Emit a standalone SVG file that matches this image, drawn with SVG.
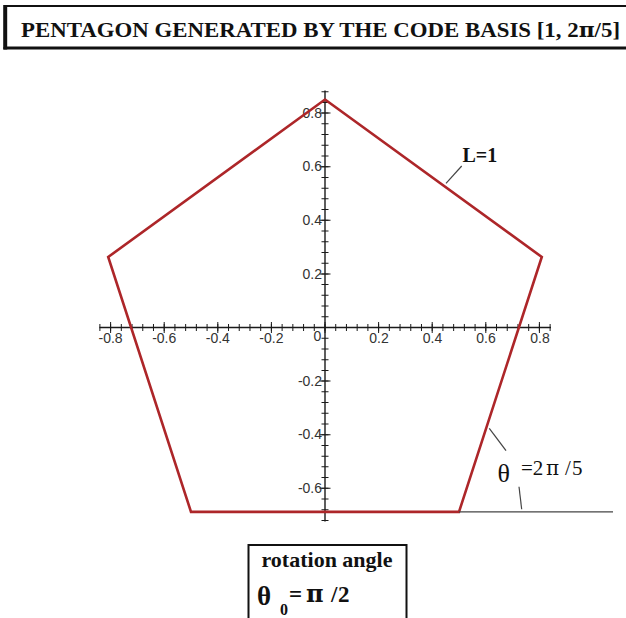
<svg xmlns="http://www.w3.org/2000/svg" width="626" height="618" viewBox="0 0 626 618">
<style>
.title{font-family:"Liberation Serif",serif;font-weight:bold;font-size:22px;fill:#111}
.axis{stroke:#1a1a1a;stroke-width:1.4;fill:none}
.tick{stroke:#1a1a1a;fill:none}
.lbl{font-family:"Liberation Sans",Arial,sans-serif;font-size:14px;fill:#333}
.lx{text-anchor:middle}
.ly{text-anchor:end}
.pent{fill:none;stroke:#ad2629;stroke-width:2.6;stroke-linejoin:miter}
.thin{stroke:#444;stroke-width:1.2;fill:none}
.serif{font-family:"Liberation Serif",serif;fill:#111}
.bold{font-weight:bold}
.pi{font-family:"DejaVu Serif","Liberation Serif",serif}
</style>
<rect width="626" height="618" fill="#ffffff"/>
<g id="title">
<rect x="5" y="6" width="630" height="41.5" fill="#fff" stroke="#111" stroke-width="2"/>
<line x1="5.2" y1="5" x2="5.2" y2="49.5" stroke="#111" stroke-width="4"/>
<line x1="3.5" y1="48.3" x2="626" y2="48.3" stroke="#111" stroke-width="2.6"/>
<text class="title" x="21" y="37" textLength="599" lengthAdjust="spacingAndGlyphs">PENTAGON GENERATED BY THE CODE BASIS [1, 2<tspan class="pi" font-size="21">π</tspan>/5]</text>
</g>
<g id="axes">
<line class="axis" x1="99.4" y1="327.5" x2="551" y2="327.5"/>
<line class="axis" x1="325" y1="90.5" x2="325" y2="521.5"/>
<line class="tick" x1="99.38" y1="327.5" x2="550.8" y2="327.5" stroke-width="7" stroke-dasharray="1 9.72"/>
<line class="tick" x1="110.1" y1="327.5" x2="540" y2="327.5" stroke-width="11" stroke-dasharray="1 52.6"/>
<line class="tick" x1="325" y1="91.16" x2="325" y2="521" stroke-width="7" stroke-dasharray="1 9.72"/>
<line class="tick" x1="325" y1="112.6" x2="325" y2="489" stroke-width="11" stroke-dasharray="1 52.6"/>
<text class="lbl lx" x="110.6" y="343">-0.8</text>
<text class="lbl lx" x="164.2" y="343">-0.6</text>
<text class="lbl lx" x="217.8" y="343">-0.4</text>
<text class="lbl lx" x="271.4" y="343">-0.2</text>
<text class="lbl lx" x="317.5" y="341">0</text>
<text class="lbl lx" x="379" y="343">0.2</text>
<text class="lbl lx" x="432.5" y="343">0.4</text>
<text class="lbl lx" x="486" y="343">0.6</text>
<text class="lbl lx" x="540" y="343">0.8</text>
<text class="lbl ly" x="322" y="117.8">0.8</text>
<text class="lbl ly" x="322" y="171.4">0.6</text>
<text class="lbl ly" x="322" y="225.2">0.4</text>
<text class="lbl ly" x="322" y="278.8">0.2</text>
<text class="lbl ly" x="322" y="385.6">-0.2</text>
<text class="lbl ly" x="322" y="439.2">-0.4</text>
<text class="lbl ly" x="322" y="492.8">-0.6</text>
</g>
<g id="pentagon">
<polygon class="pent" points="325,99.5 541.8,257 459,511.9 191,511.9 108.2,257"/>
</g>
<g id="connectors">
<line class="thin" x1="459" y1="511.9" x2="613" y2="511.9" stroke="#555" stroke-width="1.4"/>
<line class="thin" x1="489.3" y1="428.3" x2="506" y2="450.7"/>
<line class="thin" x1="519" y1="486.7" x2="521.7" y2="509.3"/>
<line class="thin" x1="461.7" y1="166" x2="446" y2="183.3"/>
</g>
<g id="label-L">
<text class="serif bold" x="462.5" y="162" font-size="20">L=1</text>
</g>
<g id="label-theta">
<text class="serif" x="497.5" y="482" font-size="26">θ</text>
<text class="serif" y="475" font-size="21"><tspan x="521">=2</tspan><tspan class="pi" x="546" font-size="20">π</tspan><tspan x="565">/</tspan><tspan x="572">5</tspan></text>
</g>
<g id="rotation-box">
<rect x="248.5" y="545" width="158" height="80" fill="#fff" stroke="#111" stroke-width="2"/>
<text class="serif bold" x="327" y="567" font-size="22" text-anchor="middle">rotation angle</text>
<text class="serif bold" x="257" y="605" font-size="27">θ</text>
<text class="serif bold" x="280" y="615" font-size="16">0</text>
<text class="serif bold" y="602" font-size="23"><tspan x="289">=</tspan><tspan class="pi" x="306" font-size="24">π</tspan><tspan x="331">/</tspan><tspan x="338">2</tspan></text>
</g>
</svg>
